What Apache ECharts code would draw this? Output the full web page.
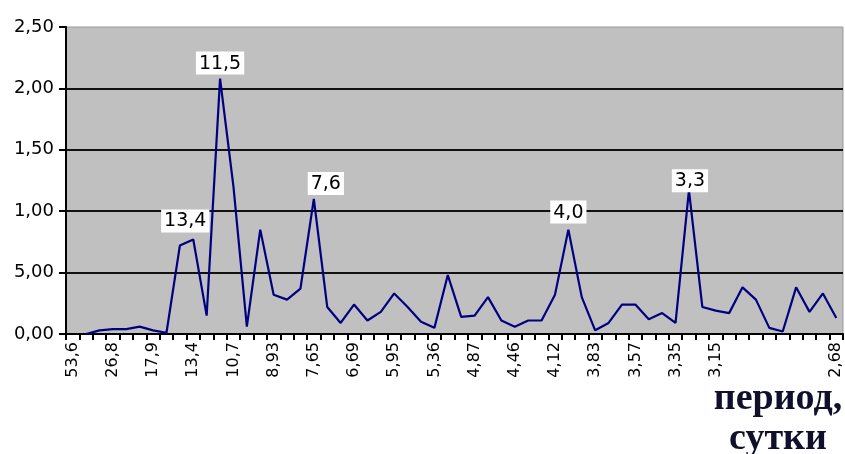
<!DOCTYPE html>
<html>
<head>
<meta charset="utf-8">
<script src="https://cdn.jsdelivr.net/npm/echarts@6/dist/echarts.min.js"></script>
<style>
  html, body { margin: 0; padding: 0; background: #fff; }
  #main { width: 845px; height: 454px; }
</style>
</head>
<body>
<div id="main"></div>
<script>
// spectrum amplitude by period (days), one value per category
var amplitude = [
	null, 0, 0.03, 0.04, 0.04, 0.06, 0.03, 0.01, 0.72, 0.77,
	0.15, 2.08, 1.20, 0.06, 0.85, 0.32, 0.28, 0.37, 1.10, 0.22,
	0.09, 0.24, 0.11, 0.18, 0.33, 0.22, 0.10, 0.05, 0.48, 0.14,
	0.15, 0.30, 0.11, 0.06, 0.11, 0.11, 0.32, 0.85, 0.30, 0.03,
	0.09, 0.24, 0.24, 0.12, 0.17, 0.09, 1.17, 0.22, 0.19, 0.17,
	0.38, 0.28, 0.05, 0.02, 0.38, 0.18, 0.33, 0.13
];

// labels shown on every third category
var periodLabels = ['53,6', '26,8', '17,9', '13,4', '10,7', '8,93', '7,65', '6,69', '5,95', '5,36',
	'4,87', '4,46', '4,12', '3,83', '3,57', '3,35', '3,15', '', '', '2,68'];

// y tick labels as printed (second one really reads 5,00)
var yLabels = ['0,00', '5,00', '1,00', '1,50', '2,00', '2,50'];

// peak annotations: category index -> text
var peakIndex = [9, 11, 18, 37, 46];
var peakText = ['13,4', '11,5', '7,6', '4,0', '3,3'];

var categories = amplitude.map(function (v, i) {
	return i % 3 === 0 ? periodLabels[i / 3] : '';
});

// label nudges, px
var shift = { 9: [-8, -3], 11: [0, 0], 18: [12, 0], 37: [0, -2], 46: [1, 6] };

var seriesData = amplitude.map(function (v, i) {
	var k = peakIndex.indexOf(i);
	if (k < 0) return v;
	return {
		value: v,
		label: {
			show: true,
			offset: shift[i],
			formatter: peakText[k]
		}
	};
});

var myChart = echarts.init(document.getElementById('main'));

var option = {
	animation: false,
	backgroundColor: '#fff',
	grid: {
		left: 66,
		right: 2,
		top: 27,
		bottom: 120,
		show: true,
		backgroundColor: '#c0c0c0',
		borderColor: '#999',
		borderWidth: 1
	},
	xAxis: {
		type: 'category',
		data: categories,
		boundaryGap: true,
		axisLine: { show: true, lineStyle: { color: '#000', width: 2 } },
		axisTick: { show: true, inside: false, interval: 0, length: 6, lineStyle: { color: '#000', width: 2 } },
		axisLabel: {
			interval: 0,
			rotate: 90,
			margin: 8,
			color: '#000',
			fontFamily: 'DejaVu Sans',
			fontSize: 16
		}
	},
	yAxis: {
		type: 'value',
		min: 0,
		max: 2.5,
		interval: 0.5,
		axisLine: { show: true, lineStyle: { color: '#000', width: 2 } },
		axisTick: { show: true, inside: false, length: 7, lineStyle: { color: '#000', width: 2 } },
		axisLabel: {
			margin: 12,
			color: '#000',
			fontFamily: 'DejaVu Sans',
			fontSize: 18,
			formatter: function (v) {
				return yLabels[Math.round(v / 0.5)];
			}
		},
		splitLine: { show: true, showMaxLine: false, lineStyle: { color: '#111', width: 2 } }
	},
	graphic: [{
		type: 'text',
		x: 778,
		y: 379,
		style: {
			text: 'период,\nсутки',
			textAlign: 'center',
			textVerticalAlign: 'top',
			font: 'bold 38px "Liberation Serif"',
			lineHeight: 40,
			fill: '#10102a'
		}
	}],
	series: [{
		type: 'line',
		data: seriesData,
		symbol: 'circle',
		symbolSize: 0,
		showSymbol: true,
		showAllSymbol: true,
		itemStyle: { color: 'rgba(0,0,0,0)', borderWidth: 0 },
		lineStyle: { color: '#000080', width: 2.2 },
		label: {
			show: false,
			position: 'top',
			distance: 4,
			backgroundColor: '#fff',
			padding: [2, 3, 1, 3],
			color: '#000',
			fontFamily: 'DejaVu Sans',
			fontSize: 19,
			lineHeight: 20
		},
		emphasis: { disabled: true },
		z: 3
	}]
};

myChart.setOption(option);
</script>
</body>
</html>
